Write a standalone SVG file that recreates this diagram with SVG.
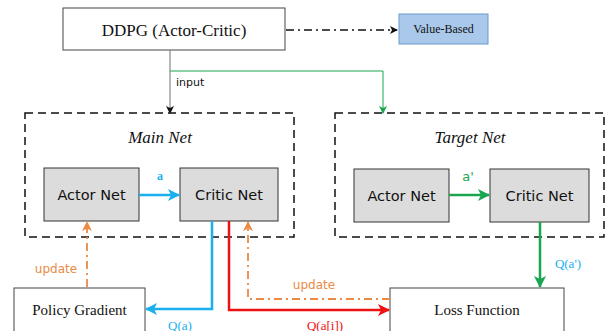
<svg xmlns="http://www.w3.org/2000/svg" width="611" height="331" viewBox="0 0 611 331">
<defs>
<style>
.box{fill:#fff;stroke:#444;stroke-width:1}
.net{fill:#dcdcdc;stroke:#333;stroke-width:1}
.grp{fill:none;stroke:#111;stroke-width:1.5;stroke-dasharray:8,5}
.serif{font-family:"Liberation Serif","Times New Roman",serif}
.sans{font-family:"DejaVu Sans","Liberation Sans",sans-serif}
.ln{fill:none}
</style>
<marker id="mBlack" markerWidth="8" markerHeight="8" refX="7" refY="4" orient="auto" markerUnits="userSpaceOnUse"><path d="M0,0 L8,4 L0,8 L2,4 Z" fill="#111"/></marker>
<marker id="mGreen" markerWidth="8" markerHeight="8" refX="7" refY="4" orient="auto" markerUnits="userSpaceOnUse"><path d="M0,0 L8,4 L0,8 L2,4 Z" fill="#1aa650"/></marker>
<marker id="mGreenL" markerWidth="12" markerHeight="12" refX="11" refY="6" orient="auto" markerUnits="userSpaceOnUse"><path d="M0,0 L12,6 L0,12 L3,6 Z" fill="#1aa650"/></marker>
<marker id="mBlue" markerWidth="12" markerHeight="12" refX="11" refY="6" orient="auto" markerUnits="userSpaceOnUse"><path d="M0,0 L12,6 L0,12 L3,6 Z" fill="#1ab0ee"/></marker>
<marker id="mRed" markerWidth="12" markerHeight="12" refX="11" refY="6" orient="auto" markerUnits="userSpaceOnUse"><path d="M0,0 L12,6 L0,12 L3,6 Z" fill="#ee1111"/></marker>
<marker id="mOrange" markerWidth="10" markerHeight="10" refX="9" refY="5" orient="auto" markerUnits="userSpaceOnUse"><path d="M0,0 L10,5 L0,10 L2.5,5 Z" fill="#ea8a45"/></marker>
</defs>

<g id="main-net">
<rect class="grp" x="25" y="113" width="269" height="124"/>
<text class="serif" x="160" y="143" font-size="17" font-style="italic" text-anchor="middle" fill="#111">Main Net</text>
</g>
<g id="target-net">
<rect class="grp" x="335" y="113" width="269" height="124"/>
<text class="serif" x="470" y="143" font-size="17" font-style="italic" text-anchor="middle" fill="#111">Target Net</text>
</g>

<g id="ddpg">
<rect class="box" x="63" y="8" width="222" height="42"/>
<text class="serif" x="174" y="36" font-size="17" text-anchor="middle" fill="#111">DDPG (Actor-Critic)</text>
</g>
<g id="value-based">
<rect x="399" y="14" width="89" height="30" fill="#a9c8ea" stroke="#6b9bd0" stroke-width="1"/>
<text class="serif" x="443.5" y="33" font-size="12" text-anchor="middle" fill="#111">Value-Based</text>
</g>
<g id="main-actor">
<rect class="net" x="44" y="168" width="95" height="53"/>
<text class="sans" x="91.5" y="200" font-size="14.5" text-anchor="middle" fill="#111">Actor Net</text>
</g>
<g id="main-critic">
<rect class="net" x="180" y="168" width="98" height="53"/>
<text class="sans" x="229" y="200" font-size="14.5" text-anchor="middle" fill="#111">Critic Net</text>
</g>
<g id="target-actor">
<rect class="net" x="354" y="169" width="95" height="53"/>
<text class="sans" x="401.5" y="201" font-size="14.5" text-anchor="middle" fill="#111">Actor Net</text>
</g>
<g id="target-critic">
<rect class="net" x="490" y="169" width="99" height="53"/>
<text class="sans" x="539.5" y="201" font-size="14.5" text-anchor="middle" fill="#111">Critic Net</text>
</g>
<g id="policy-gradient">
<rect class="box" x="14" y="288" width="131" height="50"/>
<text class="serif" x="79.5" y="315" font-size="15" text-anchor="middle" fill="#111">Policy Gradient</text>
</g>
<g id="loss-function">
<rect class="box" x="390" y="288" width="174" height="50"/>
<text class="serif" x="477" y="315" font-size="15" text-anchor="middle" fill="#111">Loss Function</text>
</g>

<g id="connectors">
<path class="ln" d="M286,30 H397" stroke="#111" stroke-width="1.5" stroke-dasharray="8,4,2,4" marker-end="url(#mBlack)"/>
<path class="ln" d="M170,50 V113" stroke="#888" stroke-width="1.2" marker-end="url(#mBlack)"/>
<path class="ln" d="M170,71 H383 V113" stroke="#1aa650" stroke-width="1" marker-end="url(#mGreen)"/>
<text class="sans" x="176" y="86" font-size="11" fill="#111">input</text>

<path class="ln" d="M139,195 H179" stroke="#1ab0ee" stroke-width="2.5" marker-end="url(#mBlue)"/>
<text class="serif" x="160" y="180" font-size="12" font-weight="bold" text-anchor="middle" fill="#1ab0ee">a</text>
<path class="ln" d="M449,195 H489" stroke="#1aa650" stroke-width="2.5" marker-end="url(#mGreenL)"/>
<text class="sans" x="468" y="181" font-size="13" text-anchor="middle" fill="#1aa650">a'</text>

<path class="ln" d="M212,221 V309 H146" stroke="#1ab0ee" stroke-width="2.5" marker-end="url(#mBlue)"/>
<text class="serif" x="180" y="330" font-size="13" text-anchor="middle" fill="#1ab0ee">Q(a)</text>
<path class="ln" d="M229,221 V310 H389" stroke="#ee1111" stroke-width="2.5" marker-end="url(#mRed)"/>
<text class="serif" x="325" y="330" font-size="13" text-anchor="middle" fill="#ee1111">Q(a[i])</text>
<path class="ln" d="M390,299 H248 V222" stroke="#ea8a45" stroke-width="1.8" stroke-dasharray="8,4,2,4" marker-end="url(#mOrange)"/>
<text class="sans" x="314" y="289" font-size="12" text-anchor="middle" fill="#ea8a45">update</text>
<path class="ln" d="M87,287 V222" stroke="#ea8a45" stroke-width="1.8" stroke-dasharray="8,4,2,4" marker-end="url(#mOrange)"/>
<text class="sans" x="56" y="273" font-size="12" text-anchor="middle" fill="#ea8a45">update</text>
<path class="ln" d="M540,222 V287" stroke="#1aa650" stroke-width="2.5" marker-end="url(#mGreenL)"/>
<text class="serif" x="568" y="268" font-size="13" text-anchor="middle" fill="#1ab0ee">Q(a')</text>
</g>
</svg>
